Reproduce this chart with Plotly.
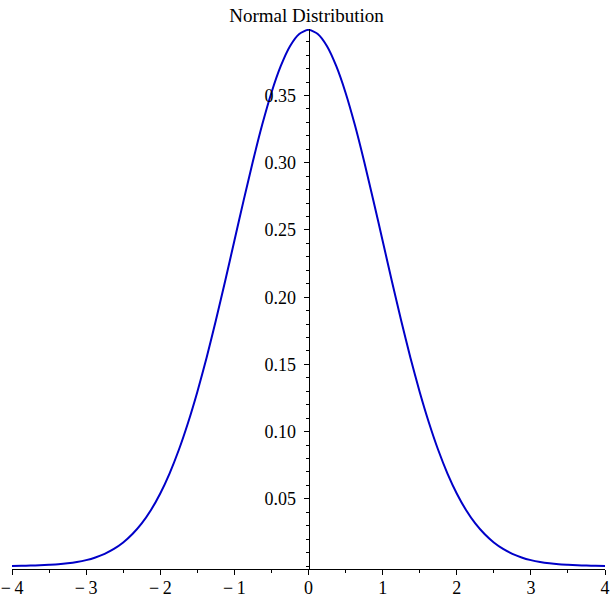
import plotly.graph_objects as go

# Curve points (x, density)
x_vals = [-4.0, -3.875, -3.75, -3.625, -3.5, -3.375, -3.25, -3.125, -3.0, -2.875, -2.75, -2.625,
          -2.5, -2.375, -2.25, -2.125, -2.0, -1.875, -1.75, -1.625, -1.5, -1.375, -1.25, -1.125,
          -1.0, -0.875, -0.75, -0.625, -0.5, -0.375, -0.25, -0.125, 0.0,
          0.125, 0.25, 0.375, 0.5, 0.625, 0.75, 0.875, 1.0, 1.125, 1.25, 1.375, 1.5, 1.625,
          1.75, 1.875, 2.0, 2.125, 2.25, 2.375, 2.5, 2.625, 2.75, 2.875, 3.0, 3.125, 3.25,
          3.375, 3.5, 3.625, 3.75, 3.875, 4.0]
y_vals = [0.0001, 0.0002, 0.0004, 0.0006, 0.0009, 0.0013, 0.0020, 0.0030, 0.0044, 0.0064, 0.0091, 0.0127,
          0.0175, 0.0238, 0.0317, 0.0417, 0.0540, 0.0688, 0.0863, 0.1066, 0.1295, 0.1550, 0.1826, 0.2119,
          0.2420, 0.2720, 0.3011, 0.3282, 0.3521, 0.3718, 0.3867, 0.3958, 0.3989,
          0.3958, 0.3867, 0.3718, 0.3521, 0.3282, 0.3011, 0.2720, 0.2420, 0.2119, 0.1826, 0.1550, 0.1295, 0.1066,
          0.0863, 0.0688, 0.0540, 0.0417, 0.0317, 0.0238, 0.0175, 0.0127, 0.0091, 0.0064, 0.0044, 0.0030, 0.0020,
          0.0013, 0.0009, 0.0006, 0.0004, 0.0002, 0.0001]

x_ticks = [-4, -3, -2, -1, 0, 1, 2, 3, 4]
x_tick_text = ["\u2212\u20094", "\u2212\u20093", "\u2212\u20092", "\u2212\u20091", "0", "1", "2", "3", "4"]
y_ticks = [0.05, 0.10, 0.15, 0.20, 0.25, 0.30, 0.35]
y_tick_text = ["0.05", "0.10", "0.15", "0.20", "0.25", "0.30", "0.35"]

title_text = "Normal Distribution"
x_title = "x"

FONT = "Liberation Serif, Times New Roman, serif"

fig = go.Figure()
fig.add_trace(go.Scatter(
    x=x_vals, y=y_vals, mode="lines",
    line=dict(color="#0000C8", width=2, shape="spline", smoothing=0.6),
    hoverinfo="skip", showlegend=False,
))

fig.update_layout(
    width=613, height=608,
    margin=dict(l=12, r=8, t=29, b=39, autoexpand=False),
    paper_bgcolor="white", plot_bgcolor="white",
    font=dict(family=FONT, size=18, color="black"),
    title=dict(text=title_text, x=0.5, xanchor="center", y=0.975, yanchor="middle",
               font=dict(family=FONT, size=19, color="black")),
    showlegend=False,
)

fig.update_xaxes(
    range=[-4, 4], showgrid=False, zeroline=False, automargin=False,
    showline=True, linecolor="black", linewidth=1,
    ticks="outside", ticklen=5, tickwidth=1, tickcolor="black",
    tickvals=x_ticks, ticktext=x_tick_text, ticklabelstandoff=-3,
    tickfont=dict(family=FONT, size=18, color="black"),
    minor=dict(tickvals=[-3.5, -2.5, -1.5, -0.5, 0.5, 1.5, 2.5, 3.5],
               ticks="outside", ticklen=3, tickcolor="black", showgrid=False),
)

fig.update_yaxes(
    range=[-0.0022, 0.3995], showgrid=False, zeroline=False, automargin=False,
    anchor="free", position=0.5,
    showline=True, linecolor="black", linewidth=1,
    ticks="outside", ticklen=5, tickwidth=1, tickcolor="black",
    tickvals=y_ticks, ticktext=y_tick_text, ticklabelstandoff=4,
    tickfont=dict(family=FONT, size=18, color="black"),
    minor=dict(dtick=0.01, tick0=0, ticks="outside", ticklen=3, tickcolor="black", showgrid=False),
)

fig.add_annotation(text=x_title, x=0.5, xref="paper", y=-34/540, yref="paper",
                   yanchor="top", showarrow=False, font=dict(family=FONT, size=18, color="black"))

fig.write_html("out.html", config={"displayModeBar": False},
               post_script="document.body.style.margin='0';")
